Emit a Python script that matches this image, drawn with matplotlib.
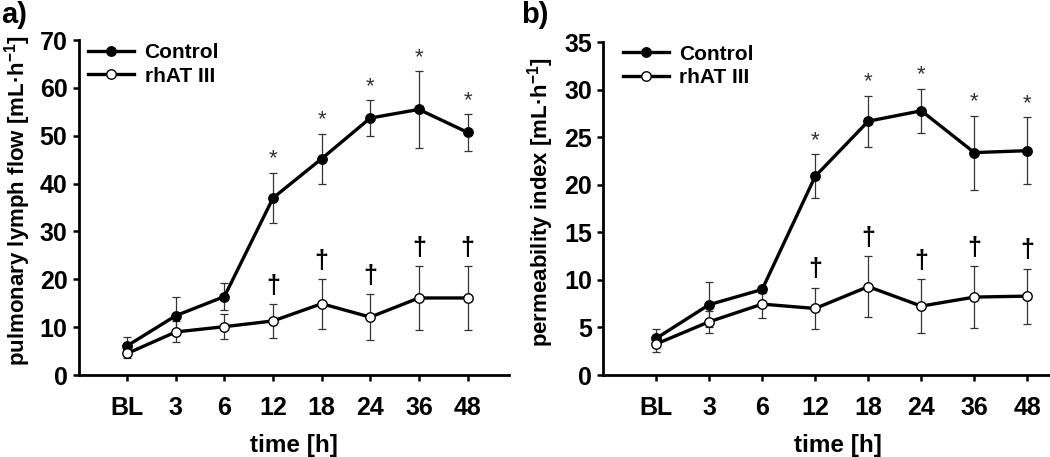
import numpy as np
import matplotlib
matplotlib.use('Agg')
import matplotlib.pyplot as plt

# --- data ---
time_labels = ['BL', '3', '6', '12', '18', '24', '36', '48']

flow_ctrl = [6.1, 12.4, 16.4, 37.0, 45.2, 53.7, 55.5, 50.7]
flow_ctrl_sd = [1.9, 4.0, 2.9, 5.3, 5.2, 3.7, 8.0, 3.8]
flow_at3 = [4.5, 9.0, 10.1, 11.3, 14.9, 12.1, 16.1, 16.1]
flow_at3_sd = [1.0, 2.2, 2.6, 3.6, 5.2, 4.8, 6.7, 6.6]

perm_ctrl = [3.85, 7.4, 9.0, 20.9, 26.7, 27.8, 23.4, 23.6]
perm_ctrl_sd = [0.95, 2.4, 0.4, 2.3, 2.7, 2.3, 3.9, 3.5]
perm_at3 = [3.26, 5.6, 7.46, 7.0, 9.3, 7.25, 8.2, 8.3]
perm_at3_sd = [0.8, 1.15, 1.5, 2.2, 3.2, 2.8, 3.3, 2.9]

# time points with significance marks (* vs BL, † vs control)
star_idx = [3, 4, 5, 6, 7]
dagger_idx = [3, 4, 5, 6, 7]

plt.rcParams['font.family'] = ['Liberation Sans', 'DejaVu Sans']
plt.rcParams['font.weight'] = 'bold'
plt.rcParams['mathtext.fontset'] = 'custom'
plt.rcParams['mathtext.rm'] = 'Liberation Sans:bold'
plt.rcParams['mathtext.it'] = 'Liberation Sans:bold'
plt.rcParams['mathtext.bf'] = 'Liberation Sans:bold'

fig = plt.figure(figsize=(10.5, 4.57), dpi=100)
axA = fig.add_axes([0.0748, 0.1794, 0.4103, 0.7330])
axB = fig.add_axes([0.5743, 0.1794, 0.4476, 0.7280])


def draw_panel(ax, ctrl, ctrl_sd, at3, at3_sd, ymax, ystep, ylabel, leg_anchor):
    x = np.arange(len(time_labels))
    ctrl = np.array(ctrl)
    at3 = np.array(at3)
    ctrl_sd = np.array(ctrl_sd)
    at3_sd = np.array(at3_sd)

    # error bars behind the markers
    for m, s in [(ctrl, ctrl_sd), (at3, at3_sd)]:
        ax.errorbar(x, m, yerr=s, fmt='none', ecolor='#333333', elinewidth=0.9,
                    capsize=3, capthick=0.9, zorder=2)

    ax.plot(x, ctrl, '-o', color='black', lw=2.4, ms=6.8, mfc='black',
            mec='black', zorder=3, label='Control')
    ax.plot(x, at3, '-o', color='black', lw=2.4, ms=6.8, mfc='white',
            mec='black', mew=1.0, zorder=4, label='rhAT III')

    for i in star_idx:
        ax.annotate('*', (x[i], ctrl[i] + ctrl_sd[i]), xytext=(0, 6),
                    textcoords='offset points', ha='center', va='baseline',
                    fontsize=16, fontweight='normal', color='#333333')
    for i in dagger_idx:
        ax.annotate('\u2020', (x[i], at3[i] + at3_sd[i]), xytext=(0, 8),
                    textcoords='offset points', ha='center', va='baseline',
                    fontsize=18, fontweight='bold', color='black')

    ax.set_xlim(-1.0, 7.86)
    ax.set_ylim(0, ymax)
    ax.set_xticks(x)
    ax.set_xticklabels(time_labels)
    ax.set_yticks(np.arange(0, ymax + 0.1, ystep))

    for side in ['top', 'right']:
        ax.spines[side].set_visible(False)
    for side in ['left', 'bottom']:
        ax.spines[side].set_linewidth(2.0)

    ax.tick_params(axis='both', direction='out', length=4, width=1.8,
                   labelsize=18)
    ax.tick_params(axis='y', pad=4)
    ax.tick_params(axis='x', pad=11)

    ax.set_xlabel('time [h]', fontsize=17.5, fontweight='bold', labelpad=10)
    ax.set_ylabel(ylabel, fontsize=16, fontweight='bold')
    ax.yaxis.set_label_coords(-0.105, 0.52)

    ax.legend(loc='upper left', bbox_to_anchor=leg_anchor, frameon=False,
              prop={'weight': 'bold', 'size': 15}, handlelength=2.2,
              handletextpad=0.5, borderpad=0, borderaxespad=0,
              labelspacing=0.2)


draw_panel(axA, flow_ctrl, flow_ctrl_sd, flow_at3, flow_at3_sd, 70, 10,
           'pulmonary lymph flow [mL·h$^{-1}$]', (0.0227, 0.99))
draw_panel(axB, perm_ctrl, perm_ctrl_sd, perm_at3, perm_at3_sd, 35, 5,
           'permeability index [mL·h$^{-1}$]', (0.0426, 0.993))
axB.yaxis.set_label_coords(-0.1, 0.52)

fig.text(1 / 1050, 1 - 15 / 457, 'a)', fontsize=21, fontweight='bold',
         ha='left', va='center')
fig.text(521 / 1050, 1 - 15 / 457, 'b)', fontsize=21, fontweight='bold',
         ha='left', va='center')

fig.savefig('out.png', dpi=100)
